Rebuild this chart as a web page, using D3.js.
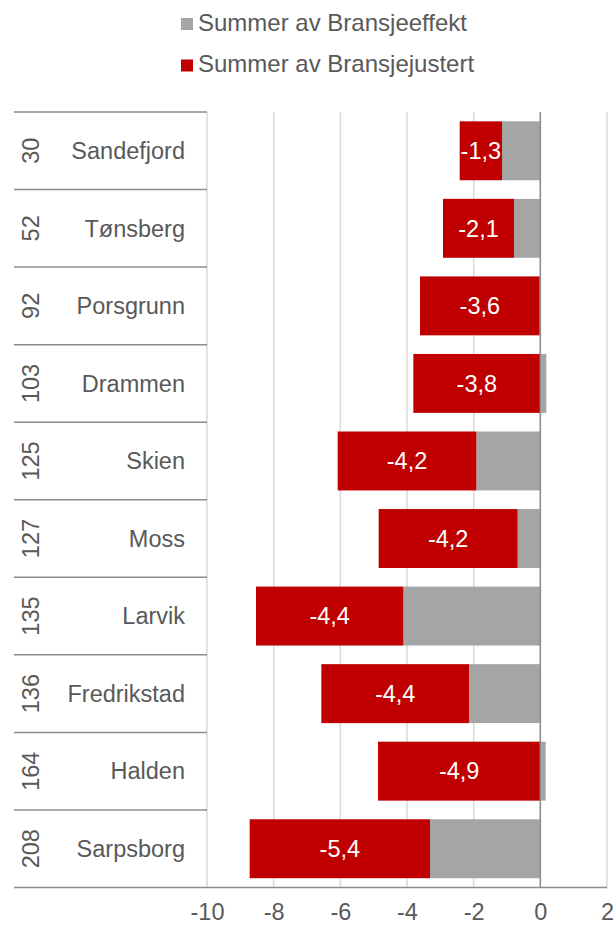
<!DOCTYPE html>
<html>
<head>
<meta charset="utf-8">
<script src="https://cdn.jsdelivr.net/npm/d3@7"></script>
<style>
  html, body { margin: 0; padding: 0; background: #fff; }
  svg { display: block; font-family: "Liberation Sans", Arial, sans-serif; }
</style>
</head>
<body>
<svg id="chart" width="614" height="926"></svg>
<script>
// ---- Data ----
const cities = ["Sandefjord", "Tønsberg", "Porsgrunn", "Drammen", "Skien", "Moss", "Larvik", "Fredrikstad", "Halden", "Sarpsborg"];
const ranks = ["30", "52", "92", "103", "125", "127", "135", "136", "164", "208"];
const bransjeeffekt = [-1.15, -0.79, -0.02, 0.18, -1.92, -0.68, -4.11, -2.14, 0.16, -3.31];
const bransjejustert = [-1.27, -2.13, -3.59, -3.81, -4.16, -4.17, -4.42, -4.43, -4.87, -5.41];
const seriesNames = ["Summer av Bransjeeffekt", "Summer av Bransjejustert"];
const seriesColors = ["#a5a5a5", "#c00000"];
const xTicks = [-10, -8, -6, -4, -2, 0, 2];

// ---- Layout ----
const svg = d3.select("#chart");
const plotLeft = 207, plotRight = 607, plotTop = 112, plotBottom = 887.5;
const tableLeft = 14;
const textColor = "#595959";
const fontSize = 23.5;

const rows = cities.map((c, i) => ({ city: c, rank: ranks[i], eff: bransjeeffekt[i], just: bransjejustert[i] }));

const x = d3.scaleLinear().domain([xTicks[0], xTicks[xTicks.length - 1]]).range([plotLeft, plotRight]);
const y = d3.scaleBand().domain(cities).range([plotTop, plotBottom]).paddingInner(0.24).paddingOuter(0.12);

// gridlines
svg.append("g").selectAll("line").data(xTicks).join("line")
  .attr("x1", d => x(d)).attr("x2", d => x(d))
  .attr("y1", plotTop).attr("y2", plotBottom)
  .attr("stroke", "#d9d9d9").attr("stroke-width", 1.5);

// stacked bars
const stack = d3.stack().keys(["eff", "just"]).offset(d3.stackOffsetDiverging);
const layers = stack(rows);
svg.append("g").selectAll("g").data(layers).join("g")
  .attr("fill", (d, i) => seriesColors[i])
  .selectAll("rect").data(d => d).join("rect")
  .attr("x", d => x(Math.min(d[0], d[1])))
  .attr("width", d => Math.abs(x(d[1]) - x(d[0])))
  .attr("y", d => y(d.data.city))
  .attr("height", y.bandwidth());

// data labels on red segment
const fmt = v => v.toFixed(1).replace(".", ",");
svg.append("g").selectAll("text").data(layers[1]).join("text")
  .attr("x", d => (x(d[0]) + x(d[1])) / 2)
  .attr("y", d => y(d.data.city) + y.bandwidth() / 2)
  .attr("dy", "0.35em")
  .attr("text-anchor", "middle")
  .attr("fill", "#fff")
  .attr("font-size", fontSize)
  .text(d => fmt(d.data.just));

// zero line
svg.append("line")
  .attr("x1", x(0)).attr("x2", x(0))
  .attr("y1", plotTop).attr("y2", plotBottom)
  .attr("stroke", "#8c8c8c").attr("stroke-width", 1.5);

// table row separators
const seps = d3.range(cities.length).map(i => plotTop + i * y.step() * 0 + (plotBottom - plotTop) * i / cities.length);
svg.append("g").selectAll("line").data(seps).join("line")
  .attr("x1", tableLeft).attr("x2", plotLeft)
  .attr("y1", d => d).attr("y2", d => d)
  .attr("stroke", "#8c8c8c").attr("stroke-width", 1.5);

// bottom axis
const xAxis = d3.axisBottom(x).tickValues(xTicks).tickSize(0).tickFormat(d => String(d));
const axisG = svg.append("g").attr("transform", `translate(0,${plotBottom})`).call(xAxis);
axisG.select(".domain").remove();
axisG.selectAll("text")
  .attr("y", 16).attr("dy", "0.71em")
  .attr("fill", textColor).attr("font-size", fontSize)
  .attr("font-family", "Liberation Sans, Arial, sans-serif");
svg.append("line")
  .attr("x1", tableLeft).attr("x2", plotRight)
  .attr("y1", plotBottom).attr("y2", plotBottom)
  .attr("stroke", "#8c8c8c").attr("stroke-width", 1.5);

// category labels
const cats = svg.append("g");
cats.selectAll("text.name").data(rows).join("text").attr("class", "name")
  .attr("x", 185)
  .attr("y", d => y(d.city) + y.bandwidth() / 2 + 8.3)
  .attr("text-anchor", "end")
  .attr("fill", textColor).attr("font-size", fontSize)
  .text(d => d.city);
cats.selectAll("text.rank").data(rows).join("text").attr("class", "rank")
  .attr("transform", d => `translate(38.5,${y(d.city) + y.bandwidth() / 2}) rotate(-90)`)
  .attr("text-anchor", "middle")
  .attr("fill", textColor).attr("font-size", fontSize)
  .text(d => d.rank);

// legend
const legend = svg.append("g");
const legY = [18, 59.5];
seriesNames.forEach((name, i) => {
  legend.append("rect").attr("x", 181).attr("y", legY[i]).attr("width", 12).attr("height", 12).attr("fill", seriesColors[i]);
  legend.append("text").attr("x", 198).attr("y", legY[i] + 12.7)
    .attr("fill", textColor).attr("font-size", 24).text(name);
});
</script>
</body>
</html>
